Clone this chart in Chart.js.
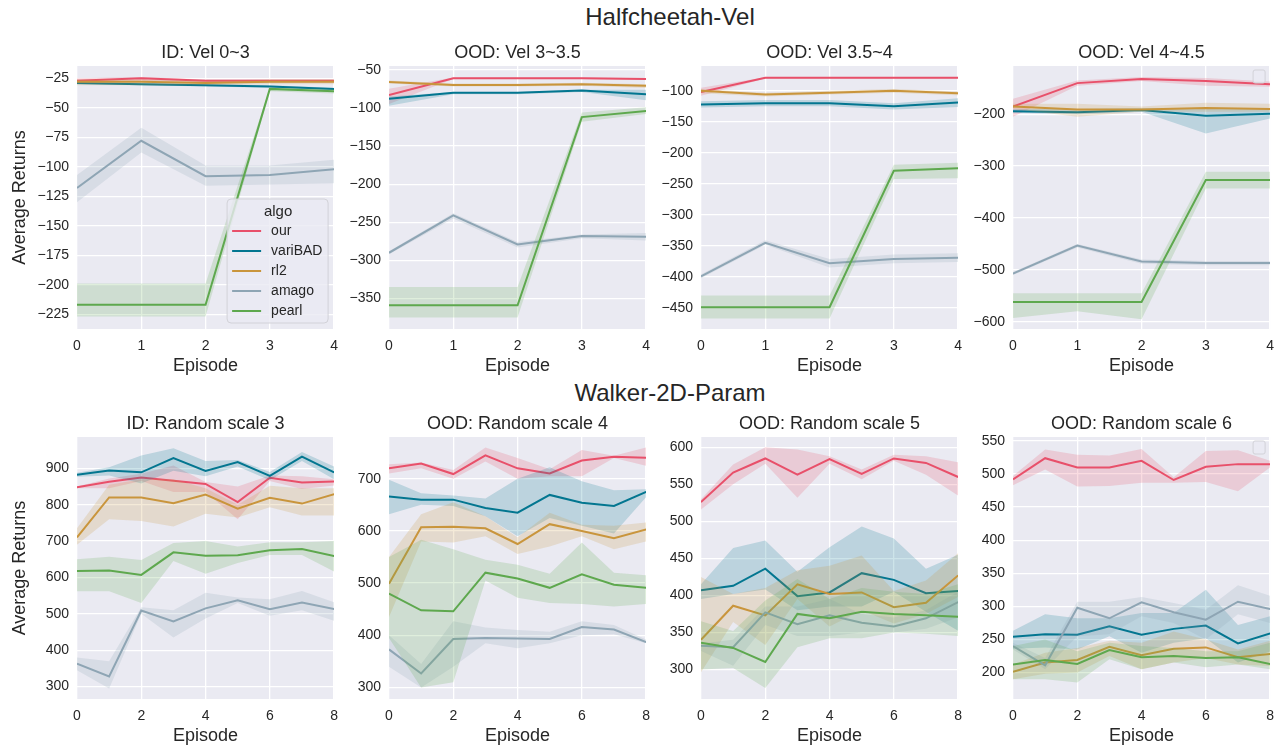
<!DOCTYPE html>
<html>
<head>
<meta charset="utf-8">
<script src="https://cdn.jsdelivr.net/npm/chart.js@4.4.1/dist/chart.umd.min.js"></script>
<style>
body { margin:0; width:1277px; height:748px; overflow:hidden; background:#fff; position:relative; font-family:"Liberation Sans", Arial, sans-serif; }
canvas { position:absolute; }
.suptitle { position:absolute; transform:translate(-50%,-50%); font-size:24px; color:#262626; white-space:nowrap; }
</style>
</head>
<body>
<div class="suptitle" style="left:670px; top:17px">Halfcheetah-Vel</div>
<div class="suptitle" style="left:670px; top:393px">Walker-2D-Param</div>
<canvas id="c1" width="345" height="349" style="left:2px; top:32px"></canvas>
<canvas id="c2" width="345" height="349" style="left:314px; top:32px"></canvas>
<canvas id="c3" width="345" height="349" style="left:626px; top:32px"></canvas>
<canvas id="c4" width="345" height="349" style="left:938px; top:32px"></canvas>
<canvas id="c5" width="345" height="348" style="left:2px; top:403px"></canvas>
<canvas id="c6" width="345" height="348" style="left:314px; top:403px"></canvas>
<canvas id="c7" width="345" height="348" style="left:626px; top:403px"></canvas>
<canvas id="c8" width="345" height="348" style="left:938px; top:403px"></canvas>
<script>
// algos + colours
const algos = ["our", "variBAD", "rl2", "amago", "pearl"];
const colors = ["#e8506a", "#037690", "#c9953c", "#8ea5b4", "#5ea84e"];

// episodes
const epTop = [0, 1, 2, 3, 4];
const epBottom = [0, 1, 2, 3, 4, 5, 6, 7, 8];
const xTicksTop = [0, 1, 2, 3, 4];
const xTicksBottom = [0, 2, 4, 6, 8];

// y tick labels
const yTicks1 = [-25, -50, -75, -100, -125, -150, -175, -200, -225];
const yTicks2 = [-50, -100, -150, -200, -250, -300, -350];
const yTicks3 = [-100, -150, -200, -250, -300, -350, -400, -450];
const yTicks4 = [-200, -300, -400, -500, -600];
const yTicks5 = [300, 400, 500, 600, 700, 800, 900];
const yTicks6 = [300, 400, 500, 600, 700];
const yTicks7 = [300, 350, 400, 450, 500, 550, 600];
const yTicks8 = [200, 250, 300, 350, 400, 450, 500, 550];

// ID: Vel 0~3
const vel03_our = [-27, -25, -27, -27, -27];
const vel03_our_lo = [-29, -27, -29, -29, -29];
const vel03_our_hi = [-25, -24, -26, -26, -26];
const vel03_varibad = [-29, -30, -31, -32, -34];
const vel03_varibad_lo = [-30, -31, -32, -33, -35];
const vel03_varibad_hi = [-28, -29, -30, -31, -33];
const vel03_rl2 = [-28, -28, -29, -28, -28];
const vel03_rl2_lo = [-31, -31, -31, -30, -30];
const vel03_rl2_hi = [-26, -26, -27, -26, -26];
const vel03_amago = [-118, -78, -108, -107, -102];
const vel03_amago_lo = [-130, -88, -116, -115, -114];
const vel03_amago_hi = [-107, -67, -99, -99, -94];
const vel03_pearl = [-217, -217, -217, -34, -36];
const vel03_pearl_lo = [-227, -227, -227, -36, -38];
const vel03_pearl_hi = [-199, -199, -199, -33, -34];

// OOD: Vel 3~3.5
const vel335_our = [-83, -61, -61, -61, -62];
const vel335_our_lo = [-95, -62, -62, -62, -63];
const vel335_our_hi = [-75, -60, -60, -60, -61];
const vel335_varibad = [-88, -80, -80, -77, -82];
const vel335_varibad_lo = [-97, -82, -82, -79, -90];
const vel335_varibad_hi = [-85, -79, -79, -76, -76];
const vel335_rl2 = [-66, -70, -70, -69, -71];
const vel335_rl2_lo = [-68, -72, -72, -71, -74];
const vel335_rl2_hi = [-64, -68, -68, -67, -69];
const vel335_amago = [-290, -241, -279, -268, -269];
const vel335_amago_lo = [-292, -245, -283, -271, -274];
const vel335_amago_hi = [-288, -238, -276, -266, -264];
const vel335_pearl = [-359, -359, -359, -112, -104];
const vel335_pearl_lo = [-375, -375, -375, -118, -108];
const vel335_pearl_hi = [-335, -335, -335, -106, -99];

// OOD: Vel 3.5~4
const vel354_our = [-102, -79, -79, -79, -79];
const vel354_our_lo = [-108, -80, -80, -80, -80];
const vel354_our_hi = [-95, -78, -78, -78, -78];
const vel354_varibad = [-122, -120, -120, -125, -119];
const vel354_varibad_lo = [-127, -125, -125, -130, -126];
const vel354_varibad_hi = [-117, -115, -115, -120, -112];
const vel354_rl2 = [-100, -106, -103, -100, -104];
const vel354_rl2_lo = [-104, -109, -106, -103, -107];
const vel354_rl2_hi = [-97, -103, -100, -97, -101];
const vel354_amago = [-399, -345, -378, -371, -369];
const vel354_amago_lo = [-402, -348, -385, -378, -376];
const vel354_amago_hi = [-396, -341, -371, -364, -362];
const vel354_pearl = [-449, -449, -449, -229, -225];
const vel354_pearl_lo = [-467, -467, -467, -242, -241];
const vel354_pearl_hi = [-430, -430, -430, -219, -216];

// OOD: Vel 4~4.5
const vel445_our = [-185, -140, -132, -136, -142];
const vel445_our_lo = [-205, -145, -136, -145, -147];
const vel445_our_hi = [-170, -135, -128, -130, -137];
const vel445_varibad = [-194, -196, -192, -203, -199];
const vel445_varibad_lo = [-197, -200, -195, -237, -208];
const vel445_varibad_hi = [-190, -190, -188, -188, -190];
const vel445_rl2 = [-185, -191, -191, -188, -190];
const vel445_rl2_lo = [-190, -205, -195, -195, -195];
const vel445_rl2_hi = [-180, -180, -185, -178, -180];
const vel445_amago = [-507, -453, -484, -487, -487];
const vel445_amago_lo = [-510, -457, -488, -491, -491];
const vel445_amago_hi = [-504, -450, -480, -483, -483];
const vel445_pearl = [-562, -562, -562, -327, -327];
const vel445_pearl_lo = [-593, -580, -595, -343, -343];
const vel445_pearl_hi = [-545, -545, -545, -311, -311];

// ID: Random scale 3
const rs3_our = [848, 863, 875, 866, 857, 807, 874, 861, 864];
const rs3_our_lo = [845, 845, 865, 835, 835, 760, 865, 843, 853];
const rs3_our_hi = [850, 872, 885, 908, 862, 850, 880, 878, 870];
const rs3_varibad = [882, 894, 889, 928, 893, 917, 879, 932, 889];
const rs3_varibad_lo = [877, 880, 858, 893, 878, 905, 867, 920, 870];
const rs3_varibad_hi = [888, 903, 935, 955, 920, 923, 890, 945, 905];
const rs3_rl2 = [710, 820, 820, 804, 828, 789, 819, 803, 829];
const rs3_rl2_lo = [690, 760, 755, 740, 775, 765, 793, 770, 770];
const rs3_rl2_hi = [735, 855, 870, 870, 845, 800, 852, 845, 845];
const rs3_amago = [363, 328, 509, 479, 515, 537, 513, 531, 513];
const rs3_amago_lo = [345, 295, 500, 435, 487, 530, 495, 510, 481];
const rs3_amago_hi = [380, 370, 518, 510, 558, 545, 540, 563, 532];
const rs3_pearl = [618, 619, 607, 669, 660, 661, 675, 678, 659];
const rs3_pearl_lo = [562, 562, 530, 645, 610, 640, 662, 662, 616];
const rs3_pearl_hi = [650, 657, 648, 695, 700, 685, 697, 697, 700];

// OOD: Random scale 4
const rs4_our = [720, 729, 709, 745, 720, 710, 735, 742, 740];
const rs4_our_lo = [710, 720, 700, 733, 700, 705, 705, 740, 725];
const rs4_our_hi = [728, 731, 717, 760, 740, 718, 755, 744, 760];
const rs4_varibad = [666, 660, 660, 644, 635, 669, 654, 648, 675];
const rs4_varibad_lo = [632, 650, 648, 628, 590, 625, 610, 595, 665];
const rs4_varibad_hi = [698, 672, 668, 662, 700, 722, 695, 678, 680];
const rs4_rl2 = [499, 607, 608, 605, 575, 613, 600, 586, 603];
const rs4_rl2_lo = [435, 580, 578, 590, 556, 570, 590, 565, 580];
const rs4_rl2_hi = [550, 632, 655, 628, 588, 635, 612, 610, 616];
const rs4_amago = [373, 327, 393, 395, 394, 393, 416, 411, 387];
const rs4_amago_lo = [340, 300, 340, 385, 375, 385, 400, 402, 385];
const rs4_amago_hi = [400, 345, 427, 415, 410, 407, 427, 420, 392];
const rs4_pearl = [480, 448, 446, 520, 509, 491, 517, 497, 491];
const rs4_pearl_lo = [395, 300, 310, 505, 472, 462, 460, 455, 460];
const rs4_pearl_hi = [550, 583, 565, 545, 535, 518, 578, 520, 515];

// OOD: Random scale 5
const rs5_our = [526, 566, 585, 563, 584, 564, 585, 579, 560];
const rs5_our_lo = [516, 550, 578, 532, 578, 557, 582, 563, 535];
const rs5_our_hi = [530, 577, 600, 597, 588, 570, 590, 588, 580];
const rs5_varibad = [407, 413, 436, 399, 404, 430, 421, 403, 406];
const rs5_varibad_lo = [395, 402, 408, 380, 385, 385, 405, 378, 352];
const rs5_varibad_hi = [415, 464, 474, 432, 465, 493, 477, 436, 455];
const rs5_rl2 = [340, 386, 373, 415, 402, 404, 384, 390, 427];
const rs5_rl2_lo = [296, 364, 333, 395, 358, 380, 362, 375, 398];
const rs5_rl2_hi = [425, 402, 410, 434, 440, 454, 406, 420, 457];
const rs5_amago = [332, 330, 377, 361, 373, 363, 358, 369, 391];
const rs5_amago_lo = [325, 305, 360, 345, 345, 350, 350, 355, 370];
const rs5_amago_hi = [335, 340, 385, 385, 395, 375, 370, 380, 405];
const rs5_pearl = [336, 329, 310, 375, 369, 378, 375, 373, 371];
const rs5_pearl_lo = [300, 302, 275, 330, 342, 342, 350, 348, 345];
const rs5_pearl_hi = [365, 352, 393, 422, 395, 410, 405, 402, 415];

// OOD: Random scale 6
const rs6_our = [492, 524, 510, 510, 520, 491, 511, 515, 515];
const rs6_our_lo = [483, 507, 481, 482, 487, 487, 488, 474, 510];
const rs6_our_hi = [497, 537, 529, 528, 538, 495, 535, 536, 520];
const rs6_varibad = [254, 258, 257, 270, 257, 266, 271, 244, 259];
const rs6_varibad_lo = [236, 238, 235, 255, 230, 245, 252, 215, 232];
const rs6_varibad_hi = [263, 288, 282, 282, 290, 290, 325, 272, 285];
const rs6_rl2 = [201, 215, 219, 239, 226, 236, 238, 223, 228];
const rs6_rl2_lo = [190, 198, 200, 225, 205, 215, 222, 212, 210];
const rs6_rl2_hi = [212, 230, 237, 248, 245, 262, 250, 235, 248];
const rs6_amago = [240, 211, 298, 282, 306, 291, 280, 307, 296];
const rs6_amago_lo = [235, 205, 255, 258, 285, 275, 250, 288, 275];
const rs6_amago_hi = [245, 222, 307, 307, 314, 305, 295, 332, 316];
const rs6_pearl = [212, 219, 213, 234, 223, 225, 222, 223, 213];
const rs6_pearl_lo = [190, 190, 185, 220, 205, 215, 208, 212, 205];
const rs6_pearl_hi = [240, 250, 232, 245, 240, 237, 232, 232, 245];

const panels = [
    { id: "c1", title: "ID: Vel 0~3", ep: epTop, xt: xTicksTop, yt: yTicks1, ymin: -237.5, ymax: -14.6, ylabel: true, legend: true,
      series: [[vel03_our, vel03_our_lo, vel03_our_hi], [vel03_varibad, vel03_varibad_lo, vel03_varibad_hi], [vel03_rl2, vel03_rl2_lo, vel03_rl2_hi], [vel03_amago, vel03_amago_lo, vel03_amago_hi], [vel03_pearl, vel03_pearl_lo, vel03_pearl_hi]] },
    { id: "c2", title: "OOD: Vel 3~3.5", ep: epTop, xt: xTicksTop, yt: yTicks2, ymin: -390, ymax: -45,
      series: [[vel335_our, vel335_our_lo, vel335_our_hi], [vel335_varibad, vel335_varibad_lo, vel335_varibad_hi], [vel335_rl2, vel335_rl2_lo, vel335_rl2_hi], [vel335_amago, vel335_amago_lo, vel335_amago_hi], [vel335_pearl, vel335_pearl_lo, vel335_pearl_hi]] },
    { id: "c3", title: "OOD: Vel 3.5~4", ep: epTop, xt: xTicksTop, yt: yTicks3, ymin: -484, ymax: -60,
      series: [[vel354_our, vel354_our_lo, vel354_our_hi], [vel354_varibad, vel354_varibad_lo, vel354_varibad_hi], [vel354_rl2, vel354_rl2_lo, vel354_rl2_hi], [vel354_amago, vel354_amago_lo, vel354_amago_hi], [vel354_pearl, vel354_pearl_lo, vel354_pearl_hi]] },
    { id: "c4", title: "OOD: Vel 4~4.5", ep: epTop, xt: xTicksTop, yt: yTicks4, ymin: -614, ymax: -107, emptyLegend: true,
      series: [[vel445_our, vel445_our_lo, vel445_our_hi], [vel445_varibad, vel445_varibad_lo, vel445_varibad_hi], [vel445_rl2, vel445_rl2_lo, vel445_rl2_hi], [vel445_amago, vel445_amago_lo, vel445_amago_hi], [vel445_pearl, vel445_pearl_lo, vel445_pearl_hi]] },
    { id: "c5", title: "ID: Random scale 3", ep: epBottom, xt: xTicksBottom, yt: yTicks5, ymin: 266, ymax: 986, ylabel: true,
      series: [[rs3_our, rs3_our_lo, rs3_our_hi], [rs3_varibad, rs3_varibad_lo, rs3_varibad_hi], [rs3_rl2, rs3_rl2_lo, rs3_rl2_hi], [rs3_amago, rs3_amago_lo, rs3_amago_hi], [rs3_pearl, rs3_pearl_lo, rs3_pearl_hi]] },
    { id: "c6", title: "OOD: Random scale 4", ep: epBottom, xt: xTicksBottom, yt: yTicks6, ymin: 278, ymax: 780,
      series: [[rs4_our, rs4_our_lo, rs4_our_hi], [rs4_varibad, rs4_varibad_lo, rs4_varibad_hi], [rs4_rl2, rs4_rl2_lo, rs4_rl2_hi], [rs4_amago, rs4_amago_lo, rs4_amago_hi], [rs4_pearl, rs4_pearl_lo, rs4_pearl_hi]] },
    { id: "c7", title: "OOD: Random scale 5", ep: epBottom, xt: xTicksBottom, yt: yTicks7, ymin: 260, ymax: 614,
      series: [[rs5_our, rs5_our_lo, rs5_our_hi], [rs5_varibad, rs5_varibad_lo, rs5_varibad_hi], [rs5_rl2, rs5_rl2_lo, rs5_rl2_hi], [rs5_amago, rs5_amago_lo, rs5_amago_hi], [rs5_pearl, rs5_pearl_lo, rs5_pearl_hi]] },
    { id: "c8", title: "OOD: Random scale 6", ep: epBottom, xt: xTicksBottom, yt: yTicks8, ymin: 160, ymax: 556, emptyLegend: true,
      series: [[rs6_our, rs6_our_lo, rs6_our_hi], [rs6_varibad, rs6_varibad_lo, rs6_varibad_hi], [rs6_rl2, rs6_rl2_lo, rs6_rl2_hi], [rs6_amago, rs6_amago_lo, rs6_amago_hi], [rs6_pearl, rs6_pearl_lo, rs6_pearl_hi]] }
];

const FONT = "'Liberation Sans', Arial, sans-serif";
const TEXT = "#262626";
const panelInfo = {};

function rgba(hex, a) {
    const n = parseInt(hex.slice(1), 16);
    return "rgba(" + (n >> 16) + "," + ((n >> 8) & 255) + "," + (n & 255) + "," + a + ")";
}

// background, titles, axis labels, legend
const decor = {
    id: "decor",
    beforeDraw(chart) {
        const a = chart.chartArea, ctx = chart.ctx;
        ctx.save();
        ctx.fillStyle = "#eaeaf2";
        ctx.fillRect(a.left, a.top, a.right - a.left, a.bottom - a.top);
        ctx.restore();
    },
    afterDraw(chart) {
        const p = panelInfo[chart.canvas.id];
        const a = chart.chartArea, ctx = chart.ctx;
        const cx = (a.left + a.right) / 2;
        ctx.save();
        ctx.fillStyle = TEXT;
        ctx.textAlign = "center";
        ctx.textBaseline = "middle";
        ctx.font = "18px " + FONT;
        ctx.fillText(p.title, cx, a.top - 13);
        ctx.fillText("Episode", cx, a.bottom + 37);
        if (p.ylabel) {
            ctx.save();
            ctx.translate(a.left - 57, (a.top + a.bottom) / 2);
            ctx.rotate(-Math.PI / 2);
            ctx.fillText("Average Returns", 0, 0);
            ctx.restore();
        }
        if (p.legend) {
            const x0 = a.right - 107, y0 = a.bottom - 130;
            ctx.beginPath();
            ctx.roundRect(x0, y0, 101, 124, 4);
            ctx.fillStyle = "rgba(234,234,242,0.8)";
            ctx.fill();
            ctx.strokeStyle = "#d2d2d8";
            ctx.lineWidth = 1;
            ctx.stroke();
            ctx.fillStyle = TEXT;
            ctx.font = "15px " + FONT;
            ctx.fillText("algo", x0 + 51, y0 + 13);
            ctx.textAlign = "left";
            ctx.font = "14px " + FONT;
            algos.forEach((name, i) => {
                const y = y0 + 32 + i * 20;
                ctx.strokeStyle = colors[i];
                ctx.lineWidth = 2;
                ctx.beginPath();
                ctx.moveTo(x0 + 5, y);
                ctx.lineTo(x0 + 34, y);
                ctx.stroke();
                ctx.fillStyle = TEXT;
                ctx.fillText(name, x0 + 44, y);
            });
        }
        if (p.emptyLegend) {
            ctx.beginPath();
            ctx.roundRect(a.right - 17, a.top + 4, 12, 13, 2);
            ctx.fillStyle = "rgba(234,234,242,0.8)";
            ctx.fill();
            ctx.strokeStyle = "#d2d2d8";
            ctx.lineWidth = 1;
            ctx.stroke();
        }
        ctx.restore();
    }
};

function makeChart(p) {
    panelInfo[p.id] = p;
    const datasets = [];
    p.series.forEach((s, i) => {
        const pts = arr => arr.map((v, k) => ({ x: p.ep[k], y: v }));
        const ord = 10 - i;
        datasets.push({ label: algos[i], data: pts(s[0]), borderColor: colors[i], borderWidth: 2, pointRadius: 0, fill: false, order: ord });
        datasets.push({ label: algos[i] + " hi", data: pts(s[2]), borderColor: "transparent", borderWidth: 1, pointRadius: 0,
            backgroundColor: rgba(colors[i], 0.2), fill: "+1", order: ord });
        datasets.push({ label: algos[i] + " lo", data: pts(s[1]), borderColor: "transparent", borderWidth: 1, pointRadius: 0, fill: false, order: ord });
    });

    new Chart(document.getElementById(p.id), {
        type: "line",
        data: { datasets: datasets },
        options: {
            responsive: false,
            animation: false,
            events: [],
            devicePixelRatio: 1,
            layout: { padding: { top: 34, right: 12, left: 0, bottom: 0 } },
            plugins: { legend: { display: false }, tooltip: { enabled: false }, title: { display: false } },
            scales: {
                x: {
                    type: "linear",
                    min: p.ep[0],
                    max: p.ep[p.ep.length - 1],
                    afterBuildTicks: s => { s.ticks = p.xt.map(v => ({ value: v })); },
                    afterFit: s => { s.height = 52; },
                    grid: { color: "#ffffff", lineWidth: 1.3, drawTicks: false },
                    border: { display: false },
                    ticks: { padding: 9, color: TEXT, font: { size: 14, family: FONT }, maxRotation: 0, autoSkip: false }
                },
                y: {
                    min: p.ymin,
                    max: p.ymax,
                    afterBuildTicks: s => { s.ticks = p.yt.map(v => ({ value: v })); },
                    afterFit: s => { s.width = 75; },
                    grid: { color: "#ffffff", lineWidth: 1.3, drawTicks: false },
                    border: { display: false },
                    ticks: { padding: 8, color: TEXT, font: { size: 14, family: FONT },
                        callback: v => String(v).replace("-", "\u2212") }
                }
            }
        },
        plugins: [decor]
    });
}

panels.forEach(makeChart);
</script>
</body>
</html>
